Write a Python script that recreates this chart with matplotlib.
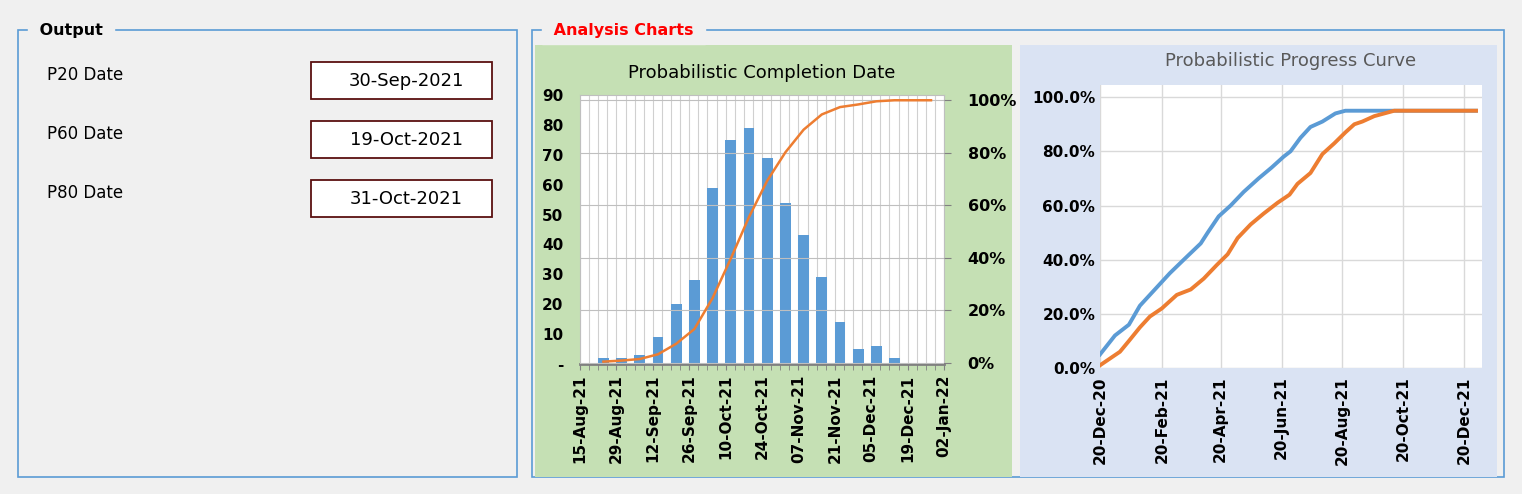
import numpy as np
import pandas as pd
import matplotlib
matplotlib.use("Agg")
import matplotlib.pyplot as plt
from matplotlib.patches import Rectangle
from matplotlib.ticker import FuncFormatter, MultipleLocator

W, H = 1522, 494

# output panel
P_LABELS = ["P20 Date", "P60 Date", "P80 Date"]
P_VALUES = ["30-Sep-2021", "19-Oct-2021", "31-Oct-2021"]

# histogram: weekly bins of completion dates
BIN_START = "2021-08-24"
BIN_COUNTS = [2, 2, 3, 9, 20, 28, 59, 75, 79, 69, 54, 43, 29, 14, 5, 6, 2, 0, 0]
HIST_TICKS = ["15-Aug-21", "29-Aug-21", "12-Sep-21", "26-Sep-21", "10-Oct-21",
              "24-Oct-21", "07-Nov-21", "21-Nov-21", "05-Dec-21", "19-Dec-21", "02-Jan-22"]

# progress curves: day offsets from 20-Dec-20 and percent complete
CURVE_START = "2020-12-20"
BLUE_DAYS = [0, 15, 29, 40, 55, 70, 84, 101, 108, 119, 131, 144, 159, 172, 184, 191, 201, 211, 223, 236, 246, 377]
BLUE_PCT = [5, 12, 16, 23, 29, 35, 40, 46, 50, 56, 60, 65, 70, 74, 78, 80, 85, 89, 91, 94, 95, 95]
ORANGE_DAYS = [0, 20, 29, 40, 50, 62, 77, 91, 104, 117, 128, 138, 151, 164, 178, 190, 198, 211, 223, 235, 246, 255, 263, 275, 285, 295, 377]
ORANGE_PCT = [1, 6, 10, 15, 19, 22, 27, 29, 33, 38, 42, 48, 53, 57, 61, 64, 68, 72, 79, 83, 87, 90, 91, 93, 94, 95, 95]
PROG_TICKS = ["2020-12-20", "2021-02-20", "2021-04-20", "2021-06-20",
              "2021-08-20", "2021-10-20", "2021-12-20"]

BLUE = "#5b9bd5"
ORANGE = "#ed7d31"
FRAME = "#5b9bd5"


def px_rect(x0, y0, x1, y1):
    return [x0 / W, 1 - y1 / H, (x1 - x0) / W, (y1 - y0) / H]


def bold_ticks(a, axis="both"):
    labels = []
    if axis in ("both", "x"):
        labels += a.get_xticklabels()
    if axis in ("both", "y"):
        labels += a.get_yticklabels()
    for t in labels:
        t.set_fontweight("bold")


fig = plt.figure(figsize=(W / 100, H / 100), dpi=100, facecolor="#f0f0f0")
bg = fig.add_axes([0, 0, 1, 1])
bg.set_xlim(0, W)
bg.set_ylim(H, 0)
bg.axis("off")

# group frames
for x0, x1 in [(18, 517), (532, 1504)]:
    bg.add_patch(Rectangle((x0, 30), x1 - x0, 447, fill=False, ec=FRAME, lw=1.2))
bg.text(34, 31, " Output ", fontsize=11.5, fontweight="bold", va="center",
        ha="left", backgroundcolor="#f0f0f0")
bg.text(548, 31, " Analysis Charts ", fontsize=11.5, fontweight="bold", color="red",
        va="center", ha="left", backgroundcolor="#f0f0f0")

for i, (lab, val) in enumerate(zip(P_LABELS, P_VALUES)):
    y = 80 + i * 59
    bg.text(47, y - 5, lab, fontsize=12, va="center")
    bg.add_patch(Rectangle((311, y - 18), 181, 37, fc="white", ec="#5a1010", lw=1.3))
    bg.text(406, y + 1, val, fontsize=13, va="center", ha="center")

# chart backgrounds
bg.add_patch(Rectangle((535, 45), 477, 432, fc="#c5e0b4", ec="none"))
bg.add_patch(Rectangle((1020, 45), 477, 432, fc="#dae3f3", ec="none"))

# --- histogram ---
bins = pd.date_range(BIN_START, periods=len(BIN_COUNTS), freq="7D")
counts = np.array(BIN_COUNTS)
cum = np.cumsum(counts) / counts.sum()

ax = fig.add_axes(px_rect(580, 95, 944, 364))
ax.set_facecolor("white")
ax.bar(bins, counts, width=4.2, color=BLUE, zorder=2)
ax.set_ylim(0, 90)
ax.yaxis.set_major_locator(MultipleLocator(10))
ax.yaxis.set_major_formatter(FuncFormatter(lambda v, p: "-" if v == 0 else f"{v:.0f}"))
ticks = pd.to_datetime(HIST_TICKS, format="%d-%b-%y")
ax.set_xlim(ticks[0], ticks[-1])
ax.set_xticks(ticks)
ax.set_xticklabels(HIST_TICKS, rotation=90, fontsize=11)
ax.set_xticks(pd.date_range(ticks[0], ticks[-1], freq="84h"), minor=True)
ax.grid(axis="x", which="both", color="#d0d0d0", lw=0.8, zorder=0)
ax.tick_params(axis="y", labelsize=11, length=0, pad=12)
ax.tick_params(axis="x", which="both", length=4, color="#808080")
bold_ticks(ax)
for s in ax.spines.values():
    s.set_color("#bfbfbf")
ax.spines["bottom"].set_color("#808080")
ax.spines["bottom"].set_linewidth(2)
ax.set_title("Probabilistic Completion Date", fontsize=13, pad=12)

ax2 = ax.twinx()
ax2.plot(bins, cum, color=ORANGE, lw=1.8, zorder=3)
ax2.set_ylim(-0.005, 1.02)
ax2.set_yticks([0, 0.2, 0.4, 0.6, 0.8, 1.0])
ax2.yaxis.set_major_formatter(FuncFormatter(lambda v, p: f"{v * 100:.0f}%"))
ax2.grid(axis="y", color="#bfbfbf", lw=0.8)
ax2.tick_params(axis="y", labelsize=11.5, length=5, pad=12, color="#808080")
bold_ticks(ax2, "y")
for s in ax2.spines.values():
    s.set_visible(False)

# --- progress curve ---
start = pd.Timestamp(CURVE_START)
bx = start + pd.to_timedelta(BLUE_DAYS, unit="D")
ox = start + pd.to_timedelta(ORANGE_DAYS, unit="D")

ax3 = fig.add_axes(px_rect(1100, 85, 1482, 368))
ax3.set_facecolor("white")
ax3.plot(bx, np.array(BLUE_PCT) / 100, color=BLUE, lw=2.8)
ax3.plot(ox, np.array(ORANGE_PCT) / 100, color=ORANGE, lw=2.8)
pticks = pd.to_datetime(PROG_TICKS)
ax3.set_xticks(pticks)
ax3.set_xticklabels([d.strftime("%d-%b-%y") for d in pticks], rotation=90, fontsize=11)
ax3.set_xlim(start, pd.Timestamp("2022-01-07"))
ax3.set_ylim(0, 1.045)
ax3.set_yticks([0, 0.2, 0.4, 0.6, 0.8, 1.0])
ax3.yaxis.set_major_formatter(FuncFormatter(lambda v, p: f"{v * 100:.1f}%"))
ax3.tick_params(axis="y", labelsize=11, length=0)
ax3.tick_params(axis="x", length=0, pad=6)
bold_ticks(ax3)
ax3.grid(color="#d9d9d9", lw=1)
for s in ax3.spines.values():
    s.set_visible(False)
ax3.set_title("Probabilistic Progress Curve", fontsize=13, color="#595959", pad=14)

fig.savefig("out.png", dpi=100, facecolor=fig.get_facecolor())
